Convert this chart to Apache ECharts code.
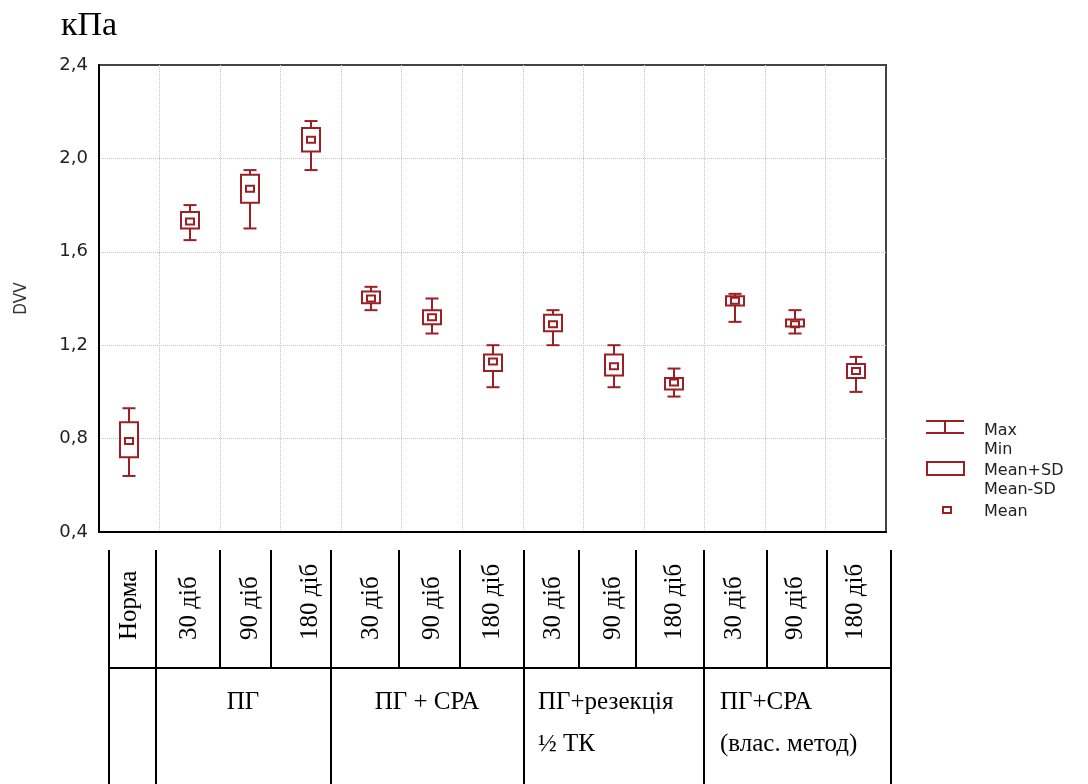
<!DOCTYPE html>
<html>
<head>
<meta charset="utf-8">
<script src="https://cdn.jsdelivr.net/npm/echarts@6/dist/echarts.min.js"></script>
<style>
  html, body { margin: 0; padding: 0; background: #fff; }
  #chart { width: 1088px; height: 784px; }
</style>
</head>
<body>
<div id="chart"></div>
<script>
// categories (one per box) and the groups they belong to
var categories = ['Норма', '30 діб', '90 діб', '180 діб', '30 діб', '90 діб', '180 діб',
  '30 діб', '90 діб', '180 діб', '30 діб', '90 діб', '180 діб'];
var groupNames = ['ПГ', 'ПГ + СРА', 'ПГ+резекція\n½ ТК', 'ПГ+СРА\n(влас. метод)'];

// values, kPa
var maxValues = [0.93, 1.80, 1.95, 2.16, 1.45, 1.40, 1.20, 1.35, 1.20, 1.10, 1.42, 1.35, 1.15];
var sdHigh    = [0.87, 1.77, 1.93, 2.13, 1.43, 1.35, 1.16, 1.33, 1.16, 1.06, 1.41, 1.31, 1.12];
var means     = [0.79, 1.73, 1.87, 2.08, 1.40, 1.32, 1.13, 1.29, 1.11, 1.04, 1.39, 1.29, 1.09];
var sdLow     = [0.72, 1.70, 1.81, 2.03, 1.38, 1.29, 1.09, 1.26, 1.07, 1.01, 1.37, 1.28, 1.06];
var minValues = [0.64, 1.65, 1.70, 1.95, 1.35, 1.25, 1.02, 1.20, 1.02, 0.98, 1.30, 1.25, 1.00];

var yMin = 0.4, yMax = 2.4, yStep = 0.4;
var legendNames = ['Max\nMin', 'Mean+SD\nMean-SD', 'Mean'];

var RED = '#9c1f23';

// table under the plot (decoration)
var tableTop = 550, tableMid = 668, tableBottom = 784;
var cellLines = [109, 156, 220, 271, 331, 399, 460, 524, 579, 636, 704, 767, 827, 891];
var groupLines = [109, 156, 331, 524, 704, 891];

var chartDom = document.getElementById('chart');
var myChart = echarts.init(chartDom);

var boxData = categories.map(function (c, i) {
  return [i, minValues[i], sdLow[i], means[i], sdHigh[i], maxValues[i]];
});

function renderBox(params, api) {
  var i = api.value(0);
  var x = Math.round(api.coord([i, api.value(3)])[0]);
  var y5 = api.coord([i, api.value(5)])[1];
  var y4 = api.coord([i, api.value(4)])[1];
  var y3 = api.coord([i, api.value(3)])[1];
  var y2 = api.coord([i, api.value(2)])[1];
  var y1 = api.coord([i, api.value(1)])[1];
  var st = { stroke: RED, fill: null, lineWidth: 2 };
  var boxW = 18, capW = 13, mW = 8, mH = 6;
  return {
    type: 'group',
    children: [
      { type: 'line', shape: { x1: x, y1: y5, x2: x, y2: y4 }, style: st },
      { type: 'line', shape: { x1: x, y1: y2, x2: x, y2: y1 }, style: st },
      { type: 'line', shape: { x1: x - capW / 2, y1: y5, x2: x + capW / 2, y2: y5 }, style: st },
      { type: 'line', shape: { x1: x - capW / 2, y1: y1, x2: x + capW / 2, y2: y1 }, style: st },
      { type: 'rect', shape: { x: x - boxW / 2, y: y4, width: boxW, height: y2 - y4 }, style: st },
      { type: 'rect', shape: { x: x - mW / 2, y: y3 - mH / 2, width: mW, height: mH }, style: st }
    ]
  };
}

var graphics = [];
// table lines
cellLines.forEach(function (x) {
  graphics.push({ type: 'line', shape: { x1: x, y1: tableTop, x2: x, y2: tableMid }, style: { stroke: '#000', lineWidth: 2 } });
});
groupLines.forEach(function (x) {
  graphics.push({ type: 'line', shape: { x1: x, y1: tableMid, x2: x, y2: tableBottom }, style: { stroke: '#000', lineWidth: 2 } });
});
graphics.push({ type: 'line', shape: { x1: 109, y1: tableMid, x2: 891, y2: tableMid }, style: { stroke: '#000', lineWidth: 2 } });

var serif = { fontFamily: 'Liberation Serif', fontSize: 25, fill: '#000', lineHeight: 42 };
graphics.push({ type: 'text', x: 243, y: 681, style: Object.assign({ text: groupNames[0], align: 'center', verticalAlign: 'top' }, serif) });
graphics.push({ type: 'text', x: 427, y: 681, style: Object.assign({ text: groupNames[1], align: 'center', verticalAlign: 'top' }, serif) });
graphics.push({ type: 'text', x: 538, y: 681, style: Object.assign({ text: groupNames[2], align: 'left', verticalAlign: 'top' }, serif) });
graphics.push({ type: 'text', x: 720, y: 681, style: Object.assign({ text: groupNames[3], align: 'left', verticalAlign: 'top' }, serif) });

// legend
var legSt = { stroke: RED, fill: null, lineWidth: 2 };
graphics.push({ type: 'line', shape: { x1: 926, y1: 421, x2: 964, y2: 421 }, style: legSt });
graphics.push({ type: 'line', shape: { x1: 926, y1: 433, x2: 964, y2: 433 }, style: legSt });
graphics.push({ type: 'line', shape: { x1: 945, y1: 421, x2: 945, y2: 433 }, style: legSt });
graphics.push({ type: 'rect', shape: { x: 927, y: 462, width: 37, height: 13 }, style: legSt });
graphics.push({ type: 'rect', shape: { x: 943, y: 507, width: 8, height: 6 }, style: legSt });
var legText = { fontFamily: 'DejaVu Sans', fontSize: 16, fill: '#222', lineHeight: 19, align: 'left', verticalAlign: 'top' };
graphics.push({ type: 'text', x: 984, y: 421, style: Object.assign({ text: legendNames[0] }, legText) });
graphics.push({ type: 'text', x: 984, y: 461, style: Object.assign({ text: legendNames[1] }, legText) });
graphics.push({ type: 'text', x: 984, y: 502, style: Object.assign({ text: legendNames[2] }, legText) });

var option = {
  animation: false,
  backgroundColor: '#fff',
  title: {
    text: 'кПа',
    left: 61,
    top: 9,
    padding: 0,
    textStyle: { fontFamily: 'Liberation Serif', fontSize: 34, fontWeight: 'normal', color: '#000' }
  },
  grid: {
    left: 99, top: 65, right: 202, bottom: 252,
    show: true,
    borderColor: '#444',
    borderWidth: 2
  },
  xAxis: {
    type: 'category',
    data: categories,
    boundaryGap: true,
    axisTick: { show: false },
    axisLine: { lineStyle: { color: '#000', width: 2 } },
    splitLine: {
      show: true,
      showMinLine: false,
      showMaxLine: false,
      lineStyle: { color: '#c4c4c4', type: 'dotted', width: 1 }
    },
    axisLabel: {
      interval: 0,
      rotate: 90,
      align: 'left',
      verticalAlign: 'middle',
      margin: 108,
      fontFamily: 'Liberation Serif',
      fontSize: 25,
      color: '#000'
    }
  },
  yAxis: {
    type: 'value',
    min: yMin,
    max: yMax,
    interval: yStep,
    name: 'DVV',
    nameLocation: 'middle',
    nameGap: 69,
    nameTextStyle: { fontFamily: 'DejaVu Sans Condensed', fontSize: 17, color: '#333' },
    axisLine: { show: true, lineStyle: { color: '#000', width: 2 } },
    axisTick: { show: false },
    splitLine: {
      show: true,
      showMinLine: false,
      showMaxLine: false,
      lineStyle: { color: '#c4c4c4', type: 'dotted', width: 1 }
    },
    axisLabel: {
      margin: 11,
      fontFamily: 'DejaVu Sans',
      fontSize: 18,
      color: '#222',
      formatter: function (v) { return v.toFixed(1).replace('.', ','); }
    }
  },
  series: [{
    type: 'custom',
    name: 'DVV',
    renderItem: renderBox,
    encode: { x: 0, y: [1, 5] },
    data: boxData,
    z: 5
  }],
  graphic: graphics
};

option && myChart.setOption(option);
</script>
</body>
</html>
